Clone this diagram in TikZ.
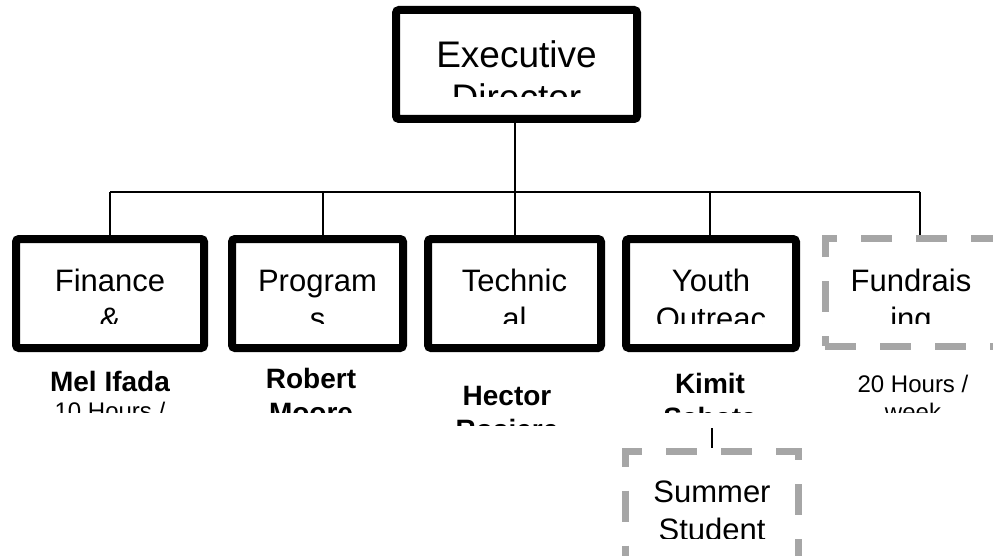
\documentclass[tikz,border=0pt]{standalone}
\usepackage{fontspec}
\setmainfont{Liberation Sans}
\usetikzlibrary{positioning}
\definecolor{vacantGray}{RGB}{166,166,166}
\tikzstyle{orgBox}=[draw, line width=8pt, rounded corners=3pt, inner sep=0pt, minimum height=109pt]
\tikzstyle{vacantBox}=[draw=vacantGray, line width=7pt, dash pattern=on 31pt off 24pt, inner sep=0pt, minimum height=108pt]
\tikzstyle{deptText}=[align=center, anchor=base, inner sep=0pt, font=\fontsize{31}{38}\selectfont]
\tikzstyle{execText}=[deptText, font=\fontsize{37}{43}\selectfont]
\tikzstyle{nameText}=[anchor=base, inner sep=0pt, font=\fontsize{28}{34}\selectfont\bfseries]
\tikzstyle{hoursText}=[anchor=base, inner sep=0pt, font=\fontsize{24}{29}\selectfont]
\tikzstyle{orgLink}=[line width=1.5pt]

\begin{document}
\begin{tikzpicture}[x=1pt, y=-1pt]
    \clip (0,0) rectangle (993,556);

    % Boxes
    \node[orgBox, minimum width=241pt] (exec) at (516.5,64.5) {};
    \node[orgBox, minimum width=188pt] (fin) at (110,293.5) {};
    \node[orgBox, minimum width=171pt] (prog) at (317.5,293.5) {};
    \node[orgBox, minimum width=173pt] (tech) at (514.5,293.5) {};
    \node[orgBox, minimum width=170pt] (youth) at (711,293.5) {};
    \node[vacantBox, minimum width=172pt] (fund) at (911,292) {};
    \node[vacantBox, minimum width=173pt, minimum height=110pt] (summer) at (712,506.5) {};

    % Box titles (cut off by the box), placed at the last baseline
    \begin{scope}
        \clip (400,14) rectangle (633,97);
        \node[execText] (execLabel) at (516.5,111) {Executive\\Director};
    \end{scope}
    \begin{scope}
        \clip (0,243) rectangle (993,323);
        \node[deptText] (finLabel) at (110,329) {Finance\\\&};
        \node[deptText] (progLabel) at (317.5,329) {Program\\s};
        \node[deptText] (techLabel) at (514.5,329) {Technic\\al};
        \node[deptText] (youthLabel) at (711,329) {Youth\\Outreac};
        \node[deptText] (fundLabel) at (911,329) {Fundrais\\ing};
    \end{scope}
    \begin{scope}
        \clip (600,459) rectangle (800,538);
        \node[deptText] (summerLabel) at (712,540) {Summer\\Student};
    \end{scope}

    % Names under the boxes
    \begin{scope}
        \clip (0,360) rectangle (993,412);
        \node[nameText] (finName) at (110,391) {Mel Ifada};
        \node[hoursText] (finHours) at (110,419) {10 Hours /};
        \node[nameText] (progName) at (311,388) {Robert};
        \node[nameText] (progName2) at (311,422) {Moore};
        \node[nameText] (youthName) at (710,393) {Kimit};
        \node[nameText] (youthName2) at (710,427) {Sahota};
        \node[hoursText] (fundHours) at (913,392) {20 Hours /};
        \node[hoursText] (fundHours2) at (913,420) {week};
    \end{scope}
    \begin{scope}
        \clip (400,360) rectangle (620,425);
        \node[nameText] (techName) at (507,405) {Hector};
        \node[nameText] (techName2) at (507,439) {Rosiere};
    \end{scope}

    % Connectors
    \coordinate (busWest) at (110,192);
    \coordinate (busEast) at (920,192);
    \coordinate (execDrop) at (515,192);
    \coordinate (progDrop) at (323,192);
    \coordinate (techDrop) at (515,192);
    \coordinate (youthDrop) at (710,192);
    \coordinate (kimitFoot) at (712,428);
    \draw[orgLink] (busWest) -- (busEast);
    \draw[orgLink] (execDrop |- exec.south) -- (execDrop);
    \draw[orgLink] (busWest) -- (busWest |- fin.north);
    \draw[orgLink] (progDrop) -- (progDrop |- prog.north);
    \draw[orgLink] (techDrop) -- (techDrop |- tech.north);
    \draw[orgLink] (youthDrop) -- (youthDrop |- youth.north);
    \draw[orgLink] (busEast) -- (busEast |- fund.north);
    \draw[orgLink] (kimitFoot) -- (summer.north);
\end{tikzpicture}
\end{document}
